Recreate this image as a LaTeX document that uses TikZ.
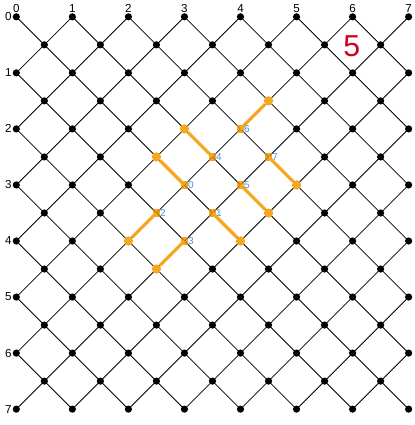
\documentclass[tikz,border=0pt]{standalone}
\usepackage{fontspec}
\setmainfont{Liberation Sans}
\definecolor{pathorange}{RGB}{245,166,35}
\definecolor{idxblue}{RGB}{74,144,226}
\definecolor{markred}{RGB}{208,2,27}

\begin{document}
\begin{tikzpicture}[
  x={(42.04pt,0)}, y={(0,-42.04pt)},
  gridline/.style={line width=0.6pt, black},
  blackdot/.style={circle, fill=black, inner sep=0pt, minimum size=5.4pt},
  orangedot/.style={circle, fill=pathorange, inner sep=0pt, minimum size=7pt},
  sqmark/.style={rectangle, fill=pathorange, inner sep=0pt, minimum size=5.4pt},
  seg/.style={pathorange, line width=2.4pt},
  idx/.style={font=\fontsize{7.5}{8}\selectfont, text=idxblue, anchor=west, inner sep=0pt, xshift=2.6pt},
  axis/.style={font=\fontsize{8.7}{10}\selectfont, inner sep=0pt}
]
\useasboundingbox (-0.291,-0.300) rectangle (7.113,7.283);

% lattice corners
\foreach \i in {0,...,7}
  \foreach \j in {0,...,7}
    \coordinate (p\i\j) at (\i,\j);

% places taken by the orange marks
\foreach \n in {d33,d34,d43,d42,h33,h23,h32,h42,d44,d24,d32,d53,h22,h24,h41,h43}
  {\expandafter\gdef\csname skip\n\endcsname{}}

% index squares (under the lattice lines)
\foreach \k/\x/\y in {0/3/3, 1/3.5/3.5, 2/2.5/3.5, 3/3/4, 4/3.5/2.5, 5/4/3, 6/4/2, 7/4.5/2.5}
  \node[sqmark] (s\k) at (\x,\y) {};

% diagonal lines
\foreach \j in {1,...,7}
  \draw[gridline] (p0\j) -- (p\j0);
\foreach \i in {1,...,6}
  \draw[gridline] (p\i7) -- (p7\i);
\foreach \j [evaluate=\j as \e using int(7-\j)] in {0,...,6}
  \draw[gridline] (p0\j) -- (p\e7);
\foreach \i [evaluate=\i as \e using int(7-\i)] in {1,...,6}
  \draw[gridline] (p\i0) -- (p7\e);

% black dots
\foreach \i in {0,...,7}
  \foreach \j in {0,...,7}
    {\ifcsname skipd\i\j\endcsname\else\node[blackdot] (d\i\j) at (p\i\j) {};\fi}
\foreach \i in {0,...,6}
  \foreach \j in {0,...,6}
    {\ifcsname skiph\i\j\endcsname\else\node[blackdot] (h\i\j) at (\i+0.5,\j+0.5) {};\fi}

% path ends
\node[orangedot] (e0) at (2.5,2.5) {};
\node[orangedot] (e1) at (4,4) {};
\node[orangedot] (e2) at (2,4) {};
\node[orangedot] (e3) at (2.5,4.5) {};
\node[orangedot] (e4) at (3,2) {};
\node[orangedot] (e5) at (4.5,3.5) {};
\node[orangedot] (e6) at (4.5,1.5) {};
\node[orangedot] (e7) at (5,3) {};
\foreach \k in {0,...,7}
  \draw[seg] (s\k.center) -- (e\k);
\foreach \k in {0,...,7}
  \node[sqmark, opacity=0.7] at (s\k) {};
\foreach \k in {0,...,7}
  \node[idx] at (s\k.center) {\k};

% axis labels
\foreach \i in {0,...,7} {
  \node[axis] (tx\i) at (\i,-0.148) {\i};
  \node[axis, anchor=east] (ty\i) at (-0.08,\i) {\i};
}

\node[font=\fontsize{22.7}{24}\selectfont, text=markred] (mark) at (5.984,0.533) {5};
\end{tikzpicture}
\end{document}
